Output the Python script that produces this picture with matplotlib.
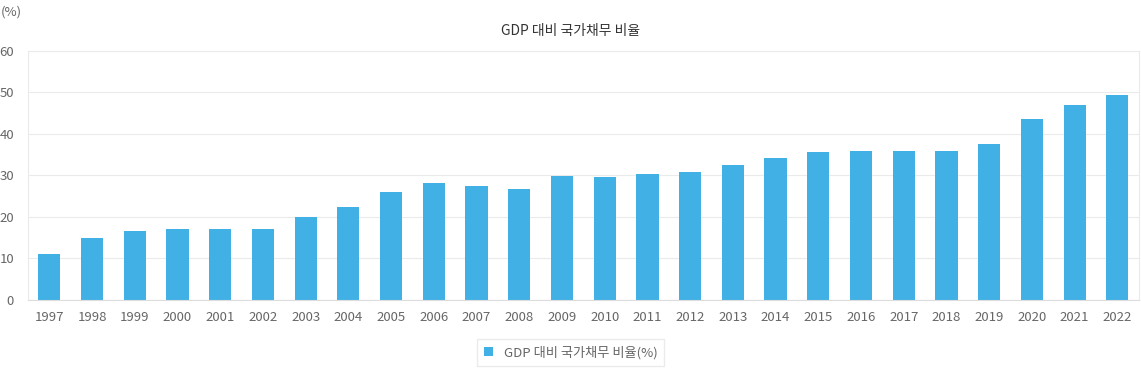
import numpy as np
import matplotlib.pyplot as plt

plt.rcParams['font.family'] = ['Noto Sans CJK KR', 'DejaVu Sans']

years = [str(y) for y in range(1997, 2023)]
ratio = [11.1, 15.0, 16.6, 17.1, 17.2, 17.0, 19.9, 22.4, 25.9, 28.1, 27.5, 26.8, 29.8,
         29.7, 30.3, 30.8, 32.6, 34.3, 35.7, 36.0, 36.0, 35.9, 37.6, 43.6, 46.9, 49.4]

title = 'GDP 대비 국가채무 비율'
label = 'GDP 대비 국가채무 비율(%)'

fig = plt.figure(figsize=(11.41, 3.69), dpi=100)
ax = fig.add_axes([0.0245, 0.187, 0.9735, 0.675])

x = np.arange(len(years))
ax.bar(x, ratio, width=0.52, color='#41b0e4', label=label, zorder=2)

ax.set_xlim(-0.5, len(years) - 0.5)
ax.set_ylim(0, 60)
ax.set_yticks(range(0, 61, 10))
ax.set_xticks(x)
ax.set_xticklabels(years)
ax.grid(axis='y', color='#ebebeb', lw=0.8, zorder=0)
for s in ['left', 'right', 'top']:
    ax.spines[s].set_color('#ebebeb')
    ax.spines[s].set_linewidth(0.8)
ax.spines['bottom'].set_color('#dddddd')
ax.tick_params(length=0, labelsize=9.5, colors='#666666', pad=8)
ax.tick_params(axis='y', pad=10)

fig.text(0.5, 0.915, title, ha='center', va='center', fontsize=10, color='#333333')
fig.text(0.001, 0.968, '(%)', ha='left', va='center', fontsize=9.5, color='#666666')

leg = fig.legend(loc='center', bbox_to_anchor=(0.5, 0.045), fontsize=9.5, frameon=True,
                 fancybox=False, edgecolor='#e6e6e6', handlelength=0.7, handleheight=0.7,
                 handletextpad=0.8, borderpad=0.5)
for t in leg.get_texts():
    t.set_color('#666666')

plt.savefig('out.png', dpi=100)
